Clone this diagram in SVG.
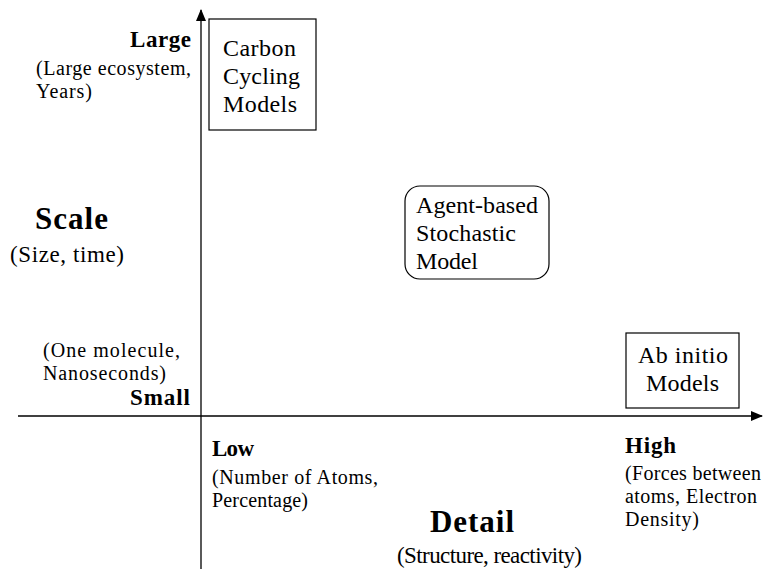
<svg xmlns="http://www.w3.org/2000/svg" width="763" height="569" viewBox="0 0 763 569">
<style>
text{font-family:"Liberation Serif","Times New Roman",serif;fill:#000}
.b{font-weight:bold}
.s{font-size:20px}
.n{font-size:24px}
.box{fill:#fff;stroke:#000;stroke-width:1.2}
.ax{stroke:#000;stroke-width:1.3;fill:none}
</style>
<defs>
<marker id="ah" markerWidth="12" markerHeight="10" refX="11" refY="5" orient="auto" markerUnits="userSpaceOnUse">
<path d="M0,0 L12,5 L0,10 Z" fill="#000"/>
</marker>
</defs>
<g id="connectors">
<line class="ax" x1="201" y1="569" x2="201" y2="10" marker-end="url(#ah)"/>
<line class="ax" x1="18" y1="416" x2="762" y2="416" marker-end="url(#ah)"/>
</g>
<g id="axis-labels">
<text class="b" x="130" y="47" font-size="23" textLength="61" lengthAdjust="spacing">Large</text>
<text class="s" x="36" y="75" textLength="155" lengthAdjust="spacing">(Large ecosystem,</text>
<text class="s" x="36" y="98" textLength="56" lengthAdjust="spacing">Years)</text>
<text class="b" x="35" y="229" font-size="31" textLength="73" lengthAdjust="spacing">Scale</text>
<text x="10" y="262" font-size="23" textLength="114" lengthAdjust="spacing">(Size, time)</text>
<text class="s" x="43" y="357" textLength="137" lengthAdjust="spacing">(One molecule,</text>
<text class="s" x="43" y="380" textLength="123" lengthAdjust="spacing">Nanoseconds)</text>
<text class="b" x="130" y="405" font-size="23" textLength="60" lengthAdjust="spacing">Small</text>
<text class="b" x="212" y="456" font-size="23" textLength="42" lengthAdjust="spacing">Low</text>
<text class="s" x="212" y="484" textLength="166" lengthAdjust="spacing">(Number of Atoms,</text>
<text class="s" x="212" y="507" textLength="96" lengthAdjust="spacing">Percentage)</text>
<text class="b" x="430" y="532" font-size="31" textLength="84" lengthAdjust="spacing">Detail</text>
<text x="397" y="563" font-size="23" textLength="185" lengthAdjust="spacing">(Structure, reactivity)</text>
<text class="b" x="625" y="453" font-size="23" textLength="51" lengthAdjust="spacing">High</text>
<text class="s" x="625" y="480" textLength="136" lengthAdjust="spacing">(Forces between</text>
<text class="s" x="625" y="503" textLength="132" lengthAdjust="spacing">atoms, Electron</text>
<text class="s" x="625" y="526" textLength="74" lengthAdjust="spacing">Density)</text>
</g>
<g id="carbon">
<rect class="box" x="209" y="19" width="107" height="111"/>
<text class="n" x="223" y="56" textLength="73" lengthAdjust="spacing">Carbon</text>
<text class="n" x="223" y="84" textLength="77" lengthAdjust="spacing">Cycling</text>
<text class="n" x="223" y="112" textLength="74" lengthAdjust="spacing">Models</text>
</g>
<g id="agent">
<rect class="box" x="405" y="186" width="144" height="93" rx="15"/>
<text class="n" x="416" y="213" textLength="122" lengthAdjust="spacing">Agent-based</text>
<text class="n" x="416" y="241" textLength="100" lengthAdjust="spacing">Stochastic</text>
<text class="n" x="416" y="269" textLength="62" lengthAdjust="spacing">Model</text>
</g>
<g id="abinitio">
<rect class="box" x="626" y="333" width="113" height="75"/>
<text class="n" x="638" y="363" textLength="90" lengthAdjust="spacing">Ab initio</text>
<text class="n" x="646" y="391" textLength="73" lengthAdjust="spacing">Models</text>
</g>
</svg>
